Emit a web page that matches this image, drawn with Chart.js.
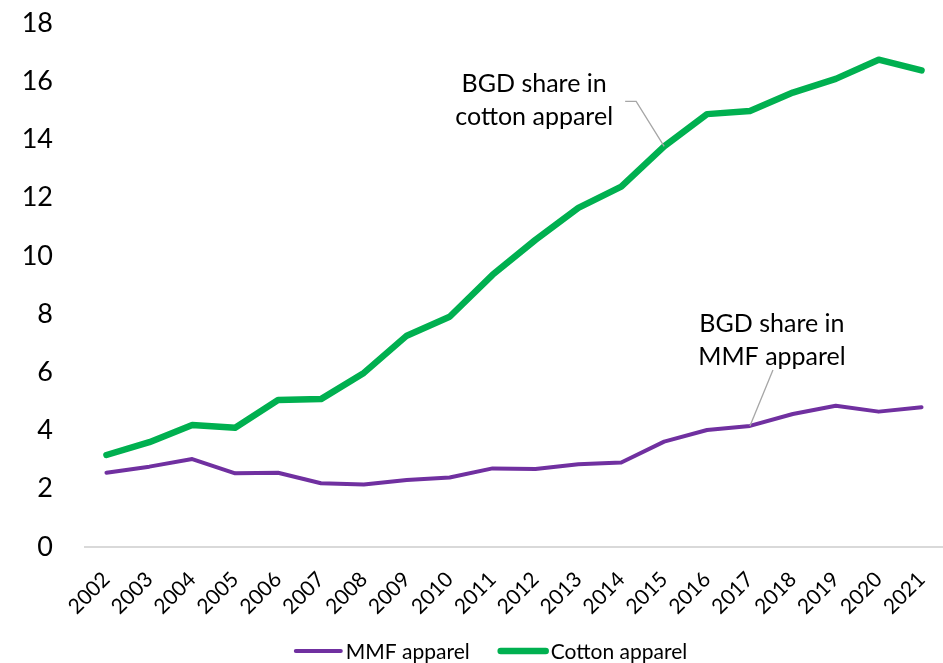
<!DOCTYPE html>
<html lang="en">
<head>
    <meta charset="UTF-8">
    <title>BGD share in apparel</title>
    <style>
        body { margin: 0; background: #fff; }
    </style>
</head>
<body>
    <canvas id="shareChart" width="943" height="663"></canvas>

    <script src="https://cdn.jsdelivr.net/npm/chart.js"></script>
    <script>
        const years = ["2002", "2003", "2004", "2005", "2006", "2007", "2008", "2009", "2010", "2011",
                       "2012", "2013", "2014", "2015", "2016", "2017", "2018", "2019", "2020", "2021"];
        const mmfShare = [2.55, 2.76, 3.02, 2.53, 2.55, 2.19, 2.15, 2.30, 2.39, 2.70,
                          2.68, 2.84, 2.90, 3.62, 4.02, 4.16, 4.57, 4.85, 4.65, 4.80];
        const cottonShare = [3.16, 3.60, 4.19, 4.10, 5.05, 5.08, 5.98, 7.26, 7.91, 9.35,
                             10.55, 11.65, 12.38, 13.76, 14.87, 14.98, 15.61, 16.08, 16.74, 16.37];
        const yTicks = [0, 2, 4, 6, 8, 10, 12, 14, 16, 18];

        const FONT = "Lato, 'Open Sans', sans-serif";

        // callouts pointing at a year on each line
        const callouts = [
            { dataset: 1, year: "2015", lines: ["BGD share in", "cotton apparel"],
              textDx: -130, textDy: -62, elbow: [[-28, -45], [-39, -45]] },
            { dataset: 0, year: "2017", lines: ["BGD share in", "MMF apparel"],
              textDx: 22, textDy: -102, elbow: [[23, -56]] }
        ];

        const calloutPlugin = {
            id: "callouts",
            afterDatasetsDraw(chart) {
                const ctx = chart.ctx;
                ctx.save();
                callouts.forEach(c => {
                    const idx = years.indexOf(c.year);
                    const pt = chart.getDatasetMeta(c.dataset).data[idx];
                    ctx.strokeStyle = "#a6a6a6";
                    ctx.lineWidth = 1.3;
                    ctx.beginPath();
                    ctx.moveTo(pt.x, pt.y);
                    c.elbow.forEach(([dx, dy]) => ctx.lineTo(pt.x + dx, pt.y + dy));
                    ctx.stroke();

                    ctx.fillStyle = "#000";
                    ctx.font = "25px " + FONT;
                    ctx.textAlign = "center";
                    ctx.textBaseline = "middle";
                    c.lines.forEach((t, i) => {
                        ctx.fillText(t, pt.x + c.textDx, pt.y + c.textDy + i * 33);
                    });
                });
                ctx.restore();
            }
        };

        // legend row under the axis: short thick line, then the series name
        const legendRow = {
            id: "legendRow",
            afterDraw(chart) {
                const ctx = chart.ctx;
                const sets = chart.data.datasets;
                const lineLen = 45, gap = 5, itemGap = 31;
                ctx.save();
                ctx.font = "21px " + FONT;
                ctx.textBaseline = "middle";
                ctx.textAlign = "left";
                const widths = sets.map(d => lineLen + gap + ctx.measureText(d.label).width);
                const total = widths.reduce((a, b) => a + b, 0) + itemGap * (sets.length - 1);
                let x = chart.width / 2 + 20 - total / 2;
                const y = chart.height - 12;
                sets.forEach((d, i) => {
                    ctx.strokeStyle = d.borderColor;
                    ctx.lineWidth = d.borderWidth;
                    ctx.lineCap = "round";
                    ctx.beginPath();
                    ctx.moveTo(x, y);
                    ctx.lineTo(x + lineLen, y);
                    ctx.stroke();
                    ctx.fillStyle = "#000";
                    ctx.fillText(d.label, x + lineLen + gap, y + 1);
                    x += widths[i] + itemGap;
                });
                ctx.restore();
            }
        };

        const ctx = document.getElementById("shareChart").getContext("2d");
        new Chart(ctx, {
            type: "line",
            data: {
                labels: years,
                datasets: [
                    {
                        label: "MMF apparel",
                        data: mmfShare,
                        borderColor: "#7030a0",
                        backgroundColor: "#7030a0",
                        borderWidth: 4,
                        pointRadius: 0,
                        borderCapStyle: "round",
                        borderJoinStyle: "round"
                    },
                    {
                        label: "Cotton apparel",
                        data: cottonShare,
                        borderColor: "#00b050",
                        backgroundColor: "#00b050",
                        borderWidth: 6.5,
                        pointRadius: 0,
                        borderCapStyle: "round",
                        borderJoinStyle: "round"
                    }
                ]
            },
            options: {
                responsive: false,
                animation: false,
                layout: {
                    padding: { top: 23, left: 22, right: 0, bottom: 30 }
                },
                plugins: {
                    legend: { display: false },
                    tooltip: { enabled: false }
                },
                scales: {
                    x: {
                        offset: true,
                        grid: { display: false, drawTicks: false },
                        border: { display: true, color: "#d9d9d9", width: 2 },
                        ticks: {
                            minRotation: 45,
                            maxRotation: 45,
                            padding: 20,
                            color: "#000",
                            font: { family: FONT, size: 21 }
                        },
                        afterFit(axis) {
                            axis.height = 86;
                            axis.paddingLeft = 0;
                            axis.paddingRight = 0;
                        }
                    },
                    y: {
                        min: 0,
                        max: 18,
                        afterBuildTicks(axis) {
                            axis.ticks = yTicks.map(v => ({ value: v }));
                        },
                        afterFit(axis) {
                            axis.width = 63;
                            axis.paddingTop = 0;
                            axis.paddingBottom = 0;
                        },
                        grid: { display: false, drawTicks: false },
                        border: { display: false },
                        ticks: {
                            padding: 32,
                            color: "#000",
                            font: { family: FONT, size: 27 }
                        }
                    }
                }
            },
            plugins: [calloutPlugin, legendRow]
        });
    </script>
</body>
</html>
